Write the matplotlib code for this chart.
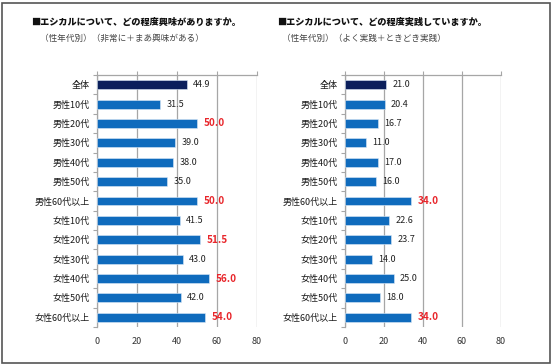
import matplotlib

matplotlib.use("Agg")

import matplotlib.pyplot as plt  # noqa: E402
from matplotlib.patches import Rectangle  # noqa: E402

plt.rcParams["font.family"] = ["Noto Sans CJK JP", "DejaVu Sans"]

categories = [
    "全体", "男性10代", "男性20代", "男性30代", "男性40代", "男性50代", "男性60代以上",
    "女性10代", "女性20代", "女性30代", "女性40代", "女性50代", "女性60代以上",
]
interest = [44.9, 31.5, 50.0, 39.0, 38.0, 35.0, 50.0, 41.5, 51.5, 43.0, 56.0, 42.0, 54.0]
practice = [21.0, 20.4, 16.7, 11.0, 17.0, 16.0, 34.0, 22.6, 23.7, 14.0, 25.0, 18.0, 34.0]
x_ticks = [0, 20, 40, 60, 80]

titles = [
    "■エシカルについて、どの程度興味がありますか。",
    "■エシカルについて、どの程度実践していますか。",
]
subtitles = [
    "（性年代別）（非常に＋まあ興味がある）",
    "（性年代別）（よく実践＋ときどき実践）",
]
highlight_min = [50.0, 34.0]  # values at or above this are printed in red

TOTAL_COLOR = "#0b1f5c"
BAR_COLOR = "#0f6bbd"
GRID_COLOR = "#a6a6a6"

fig = plt.figure(figsize=(5.52, 3.64), dpi=100)
fig.patch.set_facecolor("white")

axes_rects = [
    (97 / 552, 1 - 327 / 364, 160 / 552, 252 / 364),
    (345 / 552, 1 - 327 / 364, 156 / 552, 252 / 364),
]
title_pos = [(31 / 552, 1 - 22 / 364), (277 / 552, 1 - 22 / 364)]
sub_pos = [(40 / 552, 1 - 38 / 364), (282 / 552, 1 - 38 / 364)]

for i, values in enumerate([interest, practice]):
    ax = fig.add_axes(axes_rects[i])
    y = list(range(len(categories)))
    colors = [TOTAL_COLOR] + [BAR_COLOR] * (len(categories) - 1)
    ax.barh(y, values, height=0.46, color=colors, edgecolor="#dbe9f7",
            linewidth=0.4, zorder=3)
    for yi, v in zip(y, values):
        hot = v >= highlight_min[i]
        ax.annotate(f"{v:.1f}", (v, yi), textcoords="offset points", xytext=(4.5, 0),
                    ha="left", va="center",
                    fontsize=7.2 if hot else 6.5,
                    fontweight="bold" if hot else "normal",
                    color="#e8262b" if hot else "#222222", zorder=4)
    ax.set_ylim(len(categories) - 0.5, -0.5)
    ax.set_xlim(0, 80)
    ax.set_yticks(y)
    ax.set_yticklabels(categories, fontsize=6.5, color="#1a1a1a")
    ax.set_yticks([k + 0.5 for k in range(-1, len(categories))], minor=True)
    ax.tick_params(axis="y", which="major", length=0, pad=5)
    ax.tick_params(axis="y", which="minor", length=3, color=GRID_COLOR, width=0.8)
    ax.set_xticks(x_ticks)
    ax.tick_params(axis="x", top=True, bottom=False, labeltop=False, labelbottom=True,
                   length=3, color=GRID_COLOR, width=0.8, labelsize=6.5, pad=4,
                   labelcolor="#333333")
    ax.grid(True, axis="x", color=GRID_COLOR, linewidth=0.9, zorder=0)
    for side in ["right", "bottom"]:
        ax.spines[side].set_visible(False)
    for side in ["top", "left"]:
        ax.spines[side].set_color(GRID_COLOR)
        ax.spines[side].set_linewidth(0.9)

    fig.text(*title_pos[i], titles[i], fontsize=6.6, fontweight="heavy",
             ha="left", va="center", color="#111111")
    fig.text(*sub_pos[i], subtitles[i], fontsize=6.2, ha="left", va="center",
             color="#444444")

fig.patches.append(Rectangle((1.5 / 552, 1.5 / 364), 548 / 552, 360 / 364,
                             transform=fig.transFigure, fill=False,
                             edgecolor="#555555", linewidth=1.2))

fig.savefig("out.png", dpi=100)
